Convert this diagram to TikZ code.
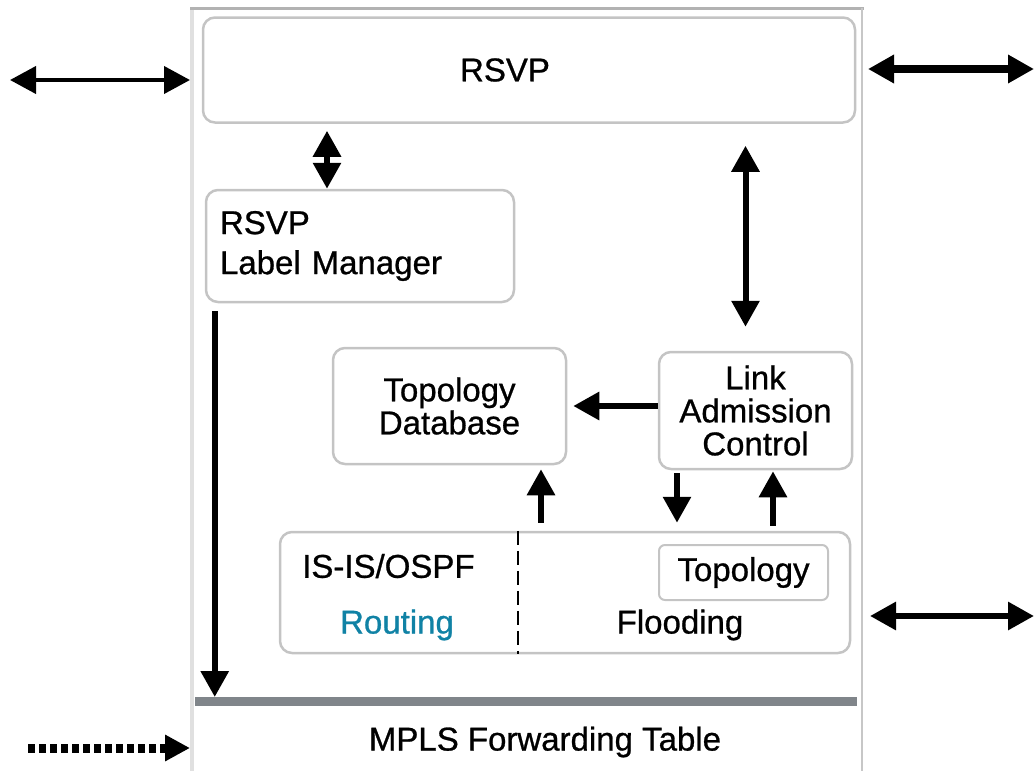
\documentclass[tikz,border=0pt]{standalone}
\usepackage{fontspec}
\setmainfont{Liberation Sans}
\newfontfamily\heavyfont{Liberation Sans}[FakeBold=0.8]
\usetikzlibrary{arrows.meta}
\definecolor{boxgray}{RGB}{196,196,196}
\definecolor{bargray}{RGB}{128,133,138}
\definecolor{routeblue}{RGB}{16,130,165}

\begin{document}
\begin{tikzpicture}[x=1pt, y=-1pt,
    every node/.style={font=\heavyfont\fontsize{33}{33}\selectfont, inner sep=0pt},
    block/.style={draw=boxgray, line width=2.5pt, rounded corners=12pt},
    link/.style={line width=6pt, -{Triangle[length=26pt,width=27pt]}},
    twolink/.style={line width=6pt, {Triangle[length=26pt,width=27pt]}-{Triangle[length=26pt,width=27pt]}}]
  \useasboundingbox (0,0) rectangle (1034,771);
  % router frame
  \draw [black!12, line width=4pt] (192,8) -- (192,771);
  \draw [black!30, line width=3pt] (190,8) -- (864,8);
  \draw [black!22, line width=2pt] (862,8) -- (862,771);
  \coordinate (lin) at (10,80);
  \coordinate (lframe) at (190,80);
  \coordinate (rframe) at (868,69);
  \coordinate (rout) at (1034,69);
  \coordinate (rframe2) at (870,616);
  \coordinate (rout2) at (1034,616);
  \coordinate (dotin) at (28,748);
  \coordinate (dotframe) at (190,748);
  \coordinate (split) at (518,0);
  \coordinate (bar) at (526,697);

  \node [block, minimum width=652pt, minimum height=105pt] (rsvp) at (529,70) {};
  \node (rsvptext) at (505,70) {RSVP};
  \node [block, minimum width=308pt, minimum height=112pt, text width=280pt, align=left,
         font=\heavyfont\fontsize{33}{40}\selectfont] (lm) at (360,246) {RSVP\\Label Manager};
  \node [block, minimum width=233pt, minimum height=116pt, align=center] (topdb) at (449.5,406) {Topology\\Database};
  \node [block, minimum width=193pt, minimum height=117pt, align=center] (lac) at (755.5,410.5) {Link\\Admission\\Control};
  \node [block, minimum width=570pt, minimum height=121pt] (igp) at (565,592.5) {};
  \node [block, rounded corners=6pt, line width=2pt, minimum width=169pt, minimum height=55pt] (topo) at (743.5,572.5) {Topology};
  \node [anchor=west] (proto) at (302,566) {IS-IS/OSPF};
  \node [text=routeblue] (routing) at (397,625) {Routing};
  \node (flooding) at (680,625) {Flooding};
  \draw [dash pattern=on 14pt off 6pt, line width=2pt] (igp.north -| split) -- (igp.south -| split);

  \draw [bargray, line width=9pt] (195,701) -- (857,701);
  \node (fwd) at (545,742) {MPLS Forwarding Table};

  \draw [twolink, line width=4pt] (lin) -- (lframe);
  \draw [twolink, line width=8pt] (rframe) -- (rout);
  \draw [twolink, line width=6pt] (rframe2) -- (rout2);
  \draw [line width=9pt, dash pattern=on 7pt off 4pt, -{Triangle[length=25pt,width=25pt]}] (dotin) -- (dotframe);

  \draw [twolink, shorten >=7pt] ([xshift=-33pt]lm.north) -- ([xshift=-33pt]lm.north |- rsvp.south);
  \draw [link, shorten <=8pt] ([xshift=10pt]lm.south west) -- ([xshift=10pt]lm.south west |- bar);
  \draw [twolink, shorten <=24pt, shorten >=22pt] ([xshift=-10pt]lac.north) -- ([xshift=-10pt]lac.north |- rsvp.south);
  \draw [link, shorten >=6pt] (lac.west |- topdb.east) -- (topdb.east);
  \draw [link, shorten <=8pt, shorten >=4pt] ([xshift=91.5pt]topdb.south |- igp.north) -- ([xshift=91.5pt]topdb.south);
  \draw [link, shorten <=3pt, shorten >=8pt] ([xshift=-78.5pt]lac.south) -- ([xshift=-78.5pt]lac.south |- igp.north);
  \draw [link, shorten <=5pt, shorten >=1pt] ([xshift=17.5pt]lac.south |- igp.north) -- ([xshift=17.5pt]lac.south);
\end{tikzpicture}
\end{document}
